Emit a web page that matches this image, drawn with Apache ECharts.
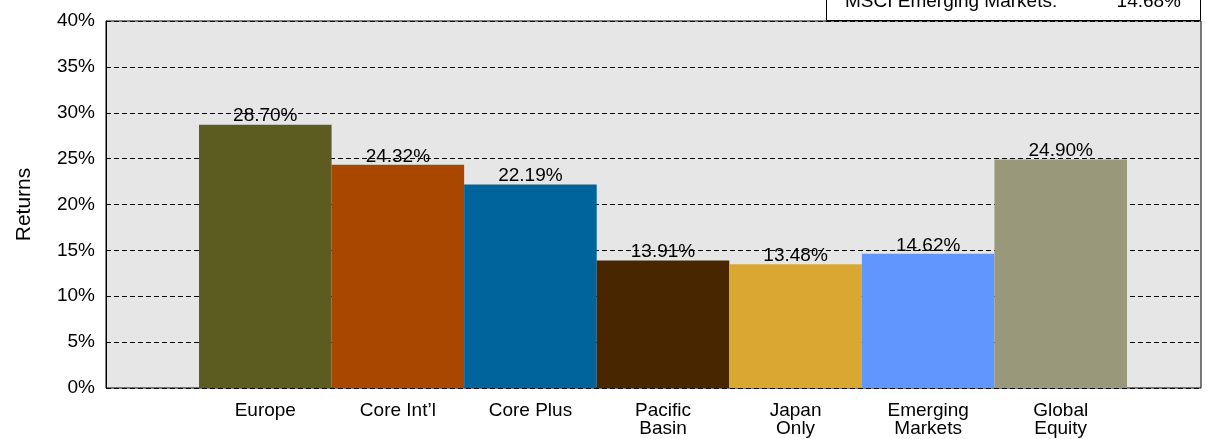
<!DOCTYPE html>
<html><head><meta charset="utf-8">
<script src="https://cdn.jsdelivr.net/npm/echarts@6/dist/echarts.min.js"></script>
<style>html,body{margin:0;padding:0;background:#fff}#c{width:1207px;height:439px}</style>
</head><body><div id="c"></div>
<script>
var categories = ['Europe', 'Core Int\u2019l', 'Core Plus', 'Pacific\nBasin', 'Japan\nOnly', 'Emerging\nMarkets', 'Global\nEquity'];
var returnsValues = [28.70, 24.32, 22.19, 13.91, 13.48, 14.62, 24.90];
var barColors = ['#5c5c20', '#a94700', '#00649c', '#472600', '#daa830', '#6196ff', '#9a987a'];
var yTicks = [0, 5, 10, 15, 20, 25, 30, 35, 40];
var noteLabel = 'MSCI Emerging Markets:';
var noteValue = 14.68;

var font = 'Liberation Sans, Arial, sans-serif';
var chart = echarts.init(document.getElementById('c'));
chart.setOption({
  animation: false,
  textStyle: { fontFamily: font },
  grid: [
    { left: 106, right: 6, top: 21, bottom: 51, show: true, backgroundColor: '#e6e6e6', borderColor: '#000', borderWidth: 1 },
    { left: 199, right: 80, top: 21, bottom: 51 }
  ],
  xAxis: [
    { gridIndex: 0, type: 'category', data: [''], show: false },
    { gridIndex: 1, type: 'category', data: categories,
      axisLine: { show: false }, axisTick: { show: false },
      axisLabel: { color: '#000', fontSize: 19, margin: 14, lineHeight: 18, fontFamily: font } }
  ],
  yAxis: [
    { gridIndex: 0, type: 'value', min: 0, max: 40, interval: 5,
      name: 'Returns', nameLocation: 'middle', nameGap: 71, nameRotate: 90,
      nameTextStyle: { fontSize: 21, color: '#000', fontFamily: font },
      axisLine: { show: true, lineStyle: { color: '#000' } }, axisTick: { show: false },
      axisLabel: { color: '#000', fontSize: 19, margin: 11, fontFamily: font, formatter: function (v) { return yTicks.indexOf(v) >= 0 ? v + '%' : ''; } },
      splitLine: { show: true, lineStyle: { color: '#000', type: [5, 3], width: 1 } } },
    { gridIndex: 1, type: 'value', min: 0, max: 40, interval: 5, show: false, splitLine: { show: false } }
  ],
  series: [{
    type: 'bar', xAxisIndex: 1, yAxisIndex: 1, barCategoryGap: 0, barGap: 0,
    data: returnsValues.map(function (v, i) { return { value: v, itemStyle: { color: barColors[i] } }; }),
    label: { show: true, position: 'top', distance: -1, color: '#000', fontSize: 19, fontFamily: font,
      formatter: function (p) { return p.value.toFixed(2) + '%'; } }
  }],
  graphic: [
    { type: 'rect', shape: { x: 826.5, y: -10, width: 374, height: 30.5 }, style: { fill: '#fff', stroke: '#000', lineWidth: 1 }, z: 10 },
    { type: 'text', x: 845, y: 2, style: { text: noteLabel, fontSize: 19, fontFamily: font, fill: '#000', verticalAlign: 'middle' }, z: 11 },
    { type: 'text', x: 1181, y: 2, style: { text: noteValue.toFixed(2) + '%', fontSize: 19, fontFamily: font, fill: '#000', align: 'right', verticalAlign: 'middle' }, z: 11 }
  ]
});
</script></body></html>
